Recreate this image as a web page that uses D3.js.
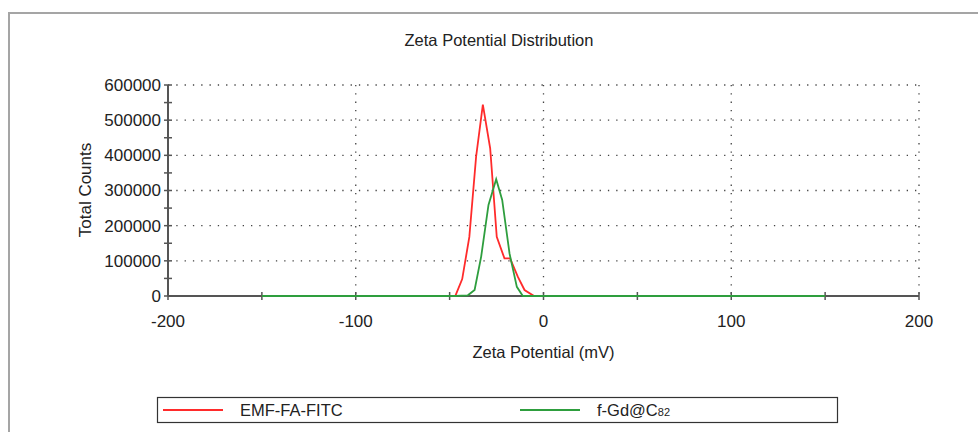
<!DOCTYPE html>
<html>
<head>
<meta charset="utf-8">
<script src="https://cdn.jsdelivr.net/npm/d3@7"></script>
<style>
  body { margin: 0; background: #fff; }
  svg { font-family: "Liberation Sans", Arial, sans-serif; }
</style>
</head>
<body>
<div id="chart"></div>
<script>
"use strict";
const width = 978, height = 432;
const margin = { top: 85, right: 59, bottom: 136, left: 168 };

// zeta potential (mV) and total counts
const emfPotential = [-150, -47, -43.3, -39.5, -35.9, -32.3, -28.4, -24.9, -20.8, -17.8, -13.7, -10.1, -5, 150];
const emfCounts = [0, 0, 48000, 168000, 396000, 544000, 420000, 168000, 107000, 107000, 55000, 17000, 0, 0];
const gdPotential = [-150, -47, -40.3, -36.7, -33.2, -29.3, -25.2, -22, -18.1, -14.2, -11, 150];
const gdCounts = [0, 0, 2000, 17000, 112000, 259000, 332000, 273000, 121000, 26000, 0, 0];

const xTicks = [-200, -100, 0, 100, 200];
const xMinorTicks = [-150, -50, 50, 150];
const yTicks = [0, 100000, 200000, 300000, 400000, 500000, 600000];
const yMinorTicks = [50000, 150000, 250000, 350000, 450000, 550000];

const seriesNames = ["EMF-FA-FITC", "f-Gd@C"];
const seriesColors = ["#ff2b2b", "#2e9e3e"];

const innerW = width - margin.left - margin.right;
const innerH = height - margin.top - margin.bottom;

const svg = d3.select("#chart")
    .append("svg")
    .attr("width", width)
    .attr("height", height);

// outer frame (only top and left visible)
svg.append("path")
    .attr("d", `M9,${height} L9,13 L${width},13`)
    .attr("fill", "none")
    .attr("stroke", "#a5a5a5")
    .attr("stroke-width", 2);

svg.append("text")
    .attr("x", 499)
    .attr("y", 46)
    .attr("text-anchor", "middle")
    .style("font-size", "16.5px")
    .attr("fill", "#222")
    .text("Zeta Potential Distribution");

const g = svg.append("g")
    .attr("transform", `translate(${margin.left},${margin.top})`);

const x = d3.scaleLinear().domain([-200, 200]).range([0, innerW]);
const y = d3.scaleLinear().domain([0, 600000]).range([innerH, 0]);

// dotted grid
g.append("g")
    .selectAll("line")
    .data(yTicks.slice(1))
    .join("line")
    .attr("x1", 0)
    .attr("x2", innerW)
    .attr("y1", d => y(d))
    .attr("y2", d => y(d))
    .attr("stroke", "#444")
    .attr("stroke-width", 1.3)
    .attr("stroke-dasharray", "1.3,7");

g.append("g")
    .selectAll("line")
    .data(xTicks.slice(1))
    .join("line")
    .attr("x1", d => x(d))
    .attr("x2", d => x(d))
    .attr("y1", 0)
    .attr("y2", innerH)
    .attr("stroke", "#444")
    .attr("stroke-width", 1.3)
    .attr("stroke-dasharray", "1.3,7");

// axes
const axisColor = "#555";
g.append("line")
    .attr("x1", 0).attr("x2", innerW)
    .attr("y1", innerH).attr("y2", innerH)
    .attr("stroke", axisColor).attr("stroke-width", 2);
g.append("line")
    .attr("x1", 0).attr("x2", 0)
    .attr("y1", 0).attr("y2", innerH)
    .attr("stroke", axisColor).attr("stroke-width", 2);

g.append("g")
    .selectAll("line")
    .data(xTicks.concat(xMinorTicks))
    .join("line")
    .attr("x1", d => x(d)).attr("x2", d => x(d))
    .attr("y1", innerH - 4).attr("y2", innerH + 4)
    .attr("stroke", axisColor).attr("stroke-width", 1.5);

g.append("g")
    .selectAll("line")
    .data(yTicks.concat(yMinorTicks))
    .join("line")
    .attr("x1", -4).attr("x2", 4)
    .attr("y1", d => y(d)).attr("y2", d => y(d))
    .attr("stroke", axisColor).attr("stroke-width", 1.5);

g.append("g")
    .selectAll("text")
    .data(xTicks)
    .join("text")
    .attr("x", d => x(d))
    .attr("y", innerH + 31)
    .attr("text-anchor", "middle")
    .style("font-size", "17px")
    .attr("fill", "#222")
    .text(d => d);

g.append("g")
    .selectAll("text")
    .data(yTicks)
    .join("text")
    .attr("x", -7)
    .attr("y", d => y(d))
    .attr("dy", "0.35em")
    .attr("text-anchor", "end")
    .style("font-size", "17px")
    .attr("fill", "#222")
    .text(d => d);

svg.append("text")
    .attr("transform", "translate(91,190) rotate(-90)")
    .attr("text-anchor", "middle")
    .style("font-size", "17px")
    .attr("fill", "#222")
    .text("Total Counts");

svg.append("text")
    .attr("x", x(0) + margin.left)
    .attr("y", 358)
    .attr("text-anchor", "middle")
    .style("font-size", "16.5px")
    .attr("fill", "#222")
    .text("Zeta Potential (mV)");

// series
const line = d3.line().x(d => x(d[0])).y(d => y(d[1]));
const emfData = d3.zip(emfPotential, emfCounts);
const gdData = d3.zip(gdPotential, gdCounts);

g.append("path")
    .datum(emfData)
    .attr("d", line)
    .attr("fill", "none")
    .attr("stroke", seriesColors[0])
    .attr("stroke-width", 1.8);

g.append("path")
    .datum(gdData)
    .attr("d", line)
    .attr("fill", "none")
    .attr("stroke", seriesColors[1])
    .attr("stroke-width", 1.8);

// legend
const legend = svg.append("g");
legend.append("rect")
    .attr("x", 157.5).attr("y", 397.5)
    .attr("width", 680).attr("height", 25)
    .attr("fill", "#fff")
    .attr("stroke", "#333")
    .attr("stroke-width", 1.2);

const legendX = [163, 520];
legendX.forEach(function (lx, i) {
    legend.append("line")
        .attr("x1", lx).attr("x2", lx + 60)
        .attr("y1", 410).attr("y2", 410)
        .attr("stroke", seriesColors[i])
        .attr("stroke-width", 1.8);
    const t = legend.append("text")
        .attr("x", lx + 77)
        .attr("y", 416)
        .style("font-size", "16.5px")
        .attr("fill", "#222")
        .text(seriesNames[i]);
    if (i === 1) {
        t.append("tspan").style("font-size", "11px").text("82");
    }
});
</script>
</body>
</html>
